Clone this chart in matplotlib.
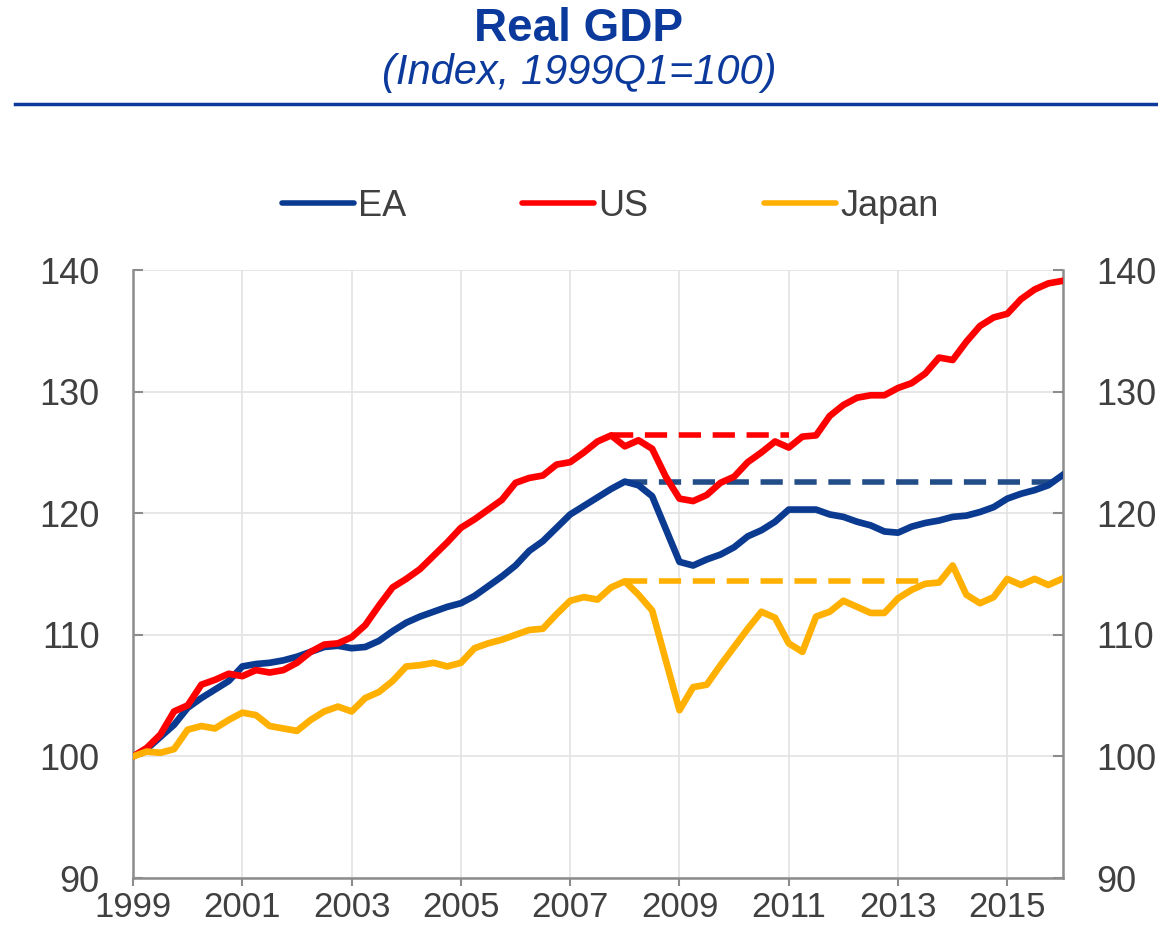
import numpy as np
import pandas as pd
import matplotlib.pyplot as plt

# quarterly index, 1999Q1 = 100
quarters = pd.period_range("1999Q1", "2016Q1", freq="Q")

ea = [100.0, 100.6, 101.6, 102.6, 104.0, 104.8, 105.5, 106.2, 107.4, 107.6,
      107.7, 107.9, 108.2, 108.6, 109.0, 109.1, 108.9, 109.0, 109.5, 110.3,
      111.0, 111.5, 111.9, 112.3, 112.6, 113.2, 114.0, 114.8, 115.7, 116.9,
      117.7, 118.8, 119.9, 120.6, 121.3, 122.0, 122.6, 122.3, 121.4, 118.7,
      116.0, 115.7, 116.2, 116.6, 117.2, 118.1, 118.6, 119.3, 120.3, 120.3,
      120.3, 119.9, 119.7, 119.3, 119.0, 118.5, 118.4, 118.9, 119.2, 119.4,
      119.7, 119.8, 120.1, 120.5, 121.2, 121.6, 121.9, 122.3, 123.1]

us = [100.0, 100.7, 101.8, 103.7, 104.2, 105.9, 106.3, 106.8, 106.6, 107.1,
      106.9, 107.1, 107.7, 108.6, 109.2, 109.3, 109.8, 110.8, 112.4, 113.9,
      114.6, 115.4, 116.5, 117.6, 118.8, 119.5, 120.3, 121.1, 122.5, 122.9,
      123.1, 124.0, 124.2, 125.0, 125.9, 126.4, 125.5, 126.0, 125.3, 123.0,
      121.2, 121.0, 121.5, 122.5, 123.0, 124.2, 125.0, 125.9, 125.4, 126.3,
      126.4, 128.0, 128.9, 129.5, 129.7, 129.7, 130.3, 130.7, 131.5, 132.8,
      132.6, 134.1, 135.4, 136.1, 136.4, 137.6, 138.4, 138.9, 139.1]

japan = [100.0, 100.4, 100.3, 100.6, 102.2, 102.5, 102.3, 103.0, 103.6, 103.4,
         102.5, 102.3, 102.1, 103.0, 103.7, 104.1, 103.7, 104.8, 105.3, 106.2,
         107.4, 107.5, 107.7, 107.4, 107.7, 108.9, 109.3, 109.6, 110.0, 110.4,
         110.5, 111.7, 112.8, 113.1, 112.9, 113.9, 114.4, 113.3, 112.0, 107.9,
         103.8, 105.7, 105.9, 107.5, 109.0, 110.5, 111.9, 111.4, 109.3, 108.6,
         111.5, 111.9, 112.8, 112.3, 111.8, 111.8, 113.0, 113.7, 114.2, 114.3,
         115.7, 113.3, 112.6, 113.1, 114.6, 114.1, 114.6, 114.1, 114.6]

# pre-crisis peak and the quarter the dashed reference line runs to
us_peak = ("2007Q4", "2011Q1")
ea_peak = ("2008Q1", "2016Q1")
jp_peak = ("2008Q1", "2013Q3")

year_ticks = list(range(1999, 2016, 2))
y_ticks = [90, 100, 110, 120, 130, 140]

C_EA = "#0b3a91"
C_EA_DASH = "#234d87"
C_US = "#ff0000"
C_JP = "#ffb000"
TXT = "#404040"
TITLE = "#0b3a9c"

plt.rcParams["font.family"] = ["Liberation Sans", "DejaVu Sans"]

t = quarters.year + (quarters.quarter - 1) / 4.0


def qpos(q):
    p = pd.Period(q, freq="Q")
    return p.year + (p.quarter - 1) / 4.0


fig = plt.figure(figsize=(11.58, 9.26), dpi=100)
ax = fig.add_axes([0.1149, 0.0518, 0.8031, 0.6566])

# dashed reference lines at the pre-crisis peak
for series, (start, end), col in [(us, us_peak, C_US), (ea, ea_peak, C_EA_DASH),
                                  (japan, jp_peak, C_JP)]:
    level = series[list(quarters.astype(str)).index(start)]
    ax.plot([qpos(start), qpos(end)], [level, level], color=col, lw=4,
            dashes=(4.0, 2.1), solid_capstyle="butt", zorder=2)

ax.plot(t, ea, color=C_EA, lw=4.8, label="EA", zorder=3)
ax.plot(t, us, color=C_US, lw=4.8, label="US", zorder=3)
ax.plot(t, japan, color=C_JP, lw=4.8, label="Japan", zorder=3)

ax.set_xlim(1999, 2016.02)
ax.set_ylim(90, 140)
ax.set_xticks(year_ticks)
ax.set_xticklabels([str(y) for y in year_ticks])
ax.set_yticks(y_ticks)
ax.grid(True, color="#e3e3e3", lw=1.2)
ax.set_axisbelow(True)

for s in ["left", "right", "bottom"]:
    ax.spines[s].set_color("#8c8c8c")
    ax.spines[s].set_linewidth(1.8)
ax.spines["top"].set_visible(False)

ax.tick_params(axis="y", which="both", direction="in", length=7, width=1.5,
               color="#8c8c8c", labelsize=26, labelcolor=TXT, pad=24,
               left=True, right=True, labelleft=True, labelright=True)
ax.tick_params(axis="x", direction="out", length=6, width=1.5,
               color="#8c8c8c", labelsize=25, labelcolor=TXT, pad=3)

fig.legend(loc="center", bbox_to_anchor=(0.527, 0.777), ncol=3, frameon=False,
           fontsize=26, handlelength=2.0, handletextpad=0.12,
           columnspacing=3.2, labelcolor=TXT)
for line in fig.legends[0].get_lines():
    line.set_linewidth(4)
    line.set_solid_capstyle("round")

fig.text(0.5, 0.969, "Real GDP", ha="center", va="center", fontsize=33,
         fontweight="bold", color=TITLE)
fig.text(0.5, 0.921, "(Index, 1999Q1=100)", ha="center", va="center",
         fontsize=30, style="italic", color=TITLE)
fig.add_artist(plt.Line2D([0.013, 1.0], [0.888, 0.888], color=TITLE, lw=2.5,
                          transform=fig.transFigure))

fig.savefig("out.png", dpi=100)
